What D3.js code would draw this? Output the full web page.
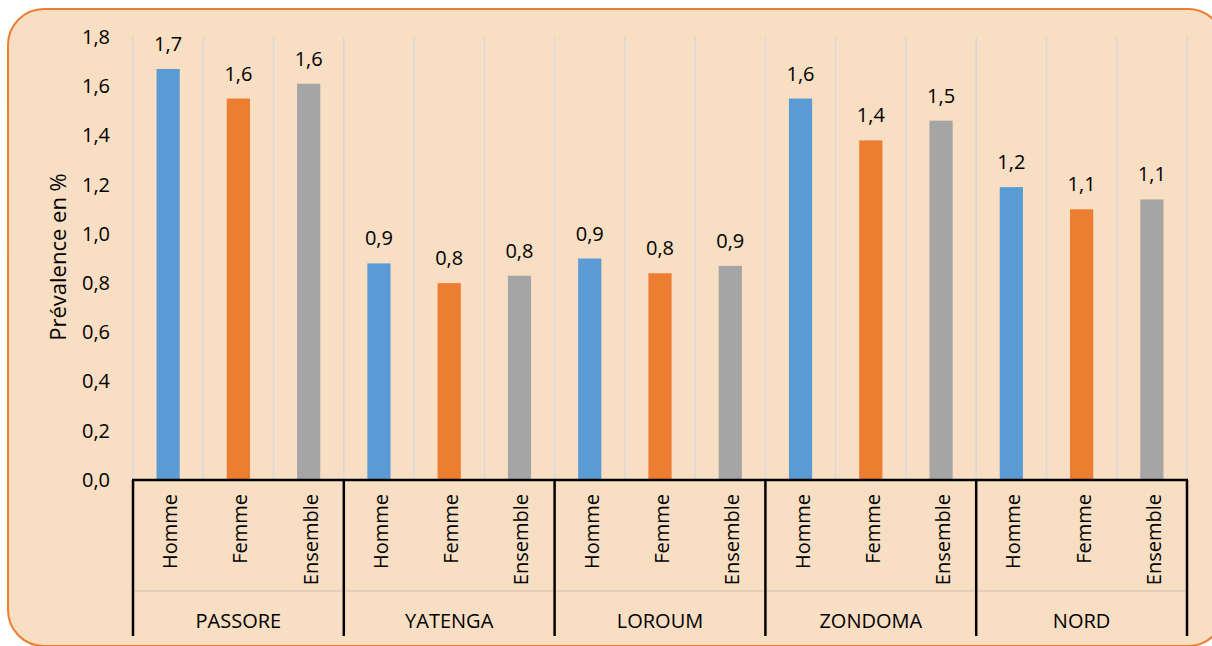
<!DOCTYPE html>
<html>
<head>
<meta charset="utf-8">
<script src="https://cdn.jsdelivr.net/npm/d3@7"></script>
<style>
  body { margin: 0; background: #fff; }
  text { font-family: "Open Sans", "Noto Sans", sans-serif; fill: #000; }
</style>
</head>
<body>
<svg width="1212" height="646"></svg>
<script>
var regions = ["PASSORE", "YATENGA", "LOROUM", "ZONDOMA", "NORD"];
var sexes = ["Homme", "Femme", "Ensemble"];
var homme = [1.67, 0.88, 0.90, 1.55, 1.19];
var femme = [1.55, 0.80, 0.84, 1.38, 1.10];
var ensemble = [1.61, 0.83, 0.87, 1.46, 1.14];
var yTicks = [0, 0.2, 0.4, 0.6, 0.8, 1.0, 1.2, 1.4, 1.6, 1.8];
var colors = { Homme: "#5B9BD5", Femme: "#ED7D31", Ensemble: "#A5A5A5" };

var series = { Homme: homme, Femme: femme, Ensemble: ensemble };
var data = [];
regions.forEach(function(r, i) {
  sexes.forEach(function(s) {
    data.push({ region: r, sex: s, key: r + "|" + s, value: series[s][i] });
  });
});

var svg = d3.select("svg");
var fr = d3.formatLocale({ decimal: ",", thousands: " ", grouping: [3], currency: ["", "€"] });
var f1 = fr.format(".1f");

// background frame
svg.append("rect")
  .attr("x", 8).attr("y", 9)
  .attr("width", 1216).attr("height", 637)
  .attr("rx", 36).attr("ry", 36)
  .attr("fill", "#F8DEC3")
  .attr("stroke", "#ED7D31")
  .attr("stroke-width", 2);

var pLeft = 133, pRight = 1187, pTop = 37, pBottom = 480;

var x = d3.scaleBand()
  .domain(data.map(function(d) { return d.key; }))
  .range([pLeft, pRight])
  .paddingInner(0).paddingOuter(0);

var y = d3.scaleLinear().domain([0, 1.8]).range([pBottom, pTop]);

// vertical gridlines at slot boundaries
var bounds = x.domain().map(function(k) { return x(k); }).concat([pRight]);
svg.append("g").selectAll("line")
  .data(bounds)
  .enter().append("line")
  .attr("x1", function(d) { return d; }).attr("x2", function(d) { return d; })
  .attr("y1", pTop).attr("y2", pBottom)
  .attr("stroke", "#D9D9D9").attr("stroke-width", 1.5);

// bars
var bw = x.bandwidth() * 0.33;
svg.append("g").selectAll("rect")
  .data(data)
  .enter().append("rect")
  .attr("x", function(d) { return x(d.key) + (x.bandwidth() - bw) / 2; })
  .attr("y", function(d) { return y(d.value); })
  .attr("width", bw)
  .attr("height", function(d) { return pBottom - y(d.value); })
  .attr("fill", function(d) { return colors[d.sex]; });

// value labels
svg.append("g").selectAll("text")
  .data(data)
  .enter().append("text")
  .attr("x", function(d) { return x(d.key) + x.bandwidth() / 2; })
  .attr("y", function(d) { return y(d.value) - 18; })
  .attr("text-anchor", "middle")
  .style("font-size", "20px")
  .text(function(d) { return f1(d.value); });

// y axis
var yAxis = svg.append("g")
  .attr("transform", "translate(" + pLeft + ",0)")
  .call(d3.axisLeft(y).tickValues(yTicks).tickSize(0).tickPadding(23).tickFormat(f1));
yAxis.select(".domain").remove();
yAxis.selectAll("text").style("font-size", "20px").style("font-family", "'Open Sans', sans-serif").attr("fill", "#000");

svg.append("text")
  .attr("transform", "translate(66," + 257 + ") rotate(-90)")
  .attr("text-anchor", "middle")
  .style("font-size", "22px")
  .text("Prévalence en %");

// x axis baseline
svg.append("line")
  .attr("x1", pLeft - 1).attr("x2", pRight + 1)
  .attr("y1", pBottom).attr("y2", pBottom)
  .attr("stroke", "#000").attr("stroke-width", 2.5);

// thin separator between levels
svg.append("line")
  .attr("x1", pLeft).attr("x2", pRight)
  .attr("y1", 591).attr("y2", 591)
  .attr("stroke", "#D0BFAF").attr("stroke-width", 1);

// group separators
var groupBounds = regions.map(function(r) { return x(r + "|Homme"); }).concat([pRight]);
svg.append("g").selectAll("line")
  .data(groupBounds)
  .enter().append("line")
  .attr("x1", function(d) { return d; }).attr("x2", function(d) { return d; })
  .attr("y1", pBottom).attr("y2", 636)
  .attr("stroke", "#000").attr("stroke-width", 2.5);

// sub labels
svg.append("g").selectAll("text")
  .data(data)
  .enter().append("text")
  .attr("transform", function(d) {
    return "translate(" + (x(d.key) + x.bandwidth() / 2 + 9) + ",494) rotate(-90)";
  })
  .attr("text-anchor", "end")
  .style("font-size", "20px")
  .text(function(d) { return d.sex; });

// group labels
svg.append("g").selectAll("text")
  .data(regions)
  .enter().append("text")
  .attr("x", function(r) { return x(r + "|Femme") + x.bandwidth() / 2; })
  .attr("y", 628)
  .attr("text-anchor", "middle")
  .style("font-size", "20px")
  .text(function(r) { return r; });
</script>
</body>
</html>
